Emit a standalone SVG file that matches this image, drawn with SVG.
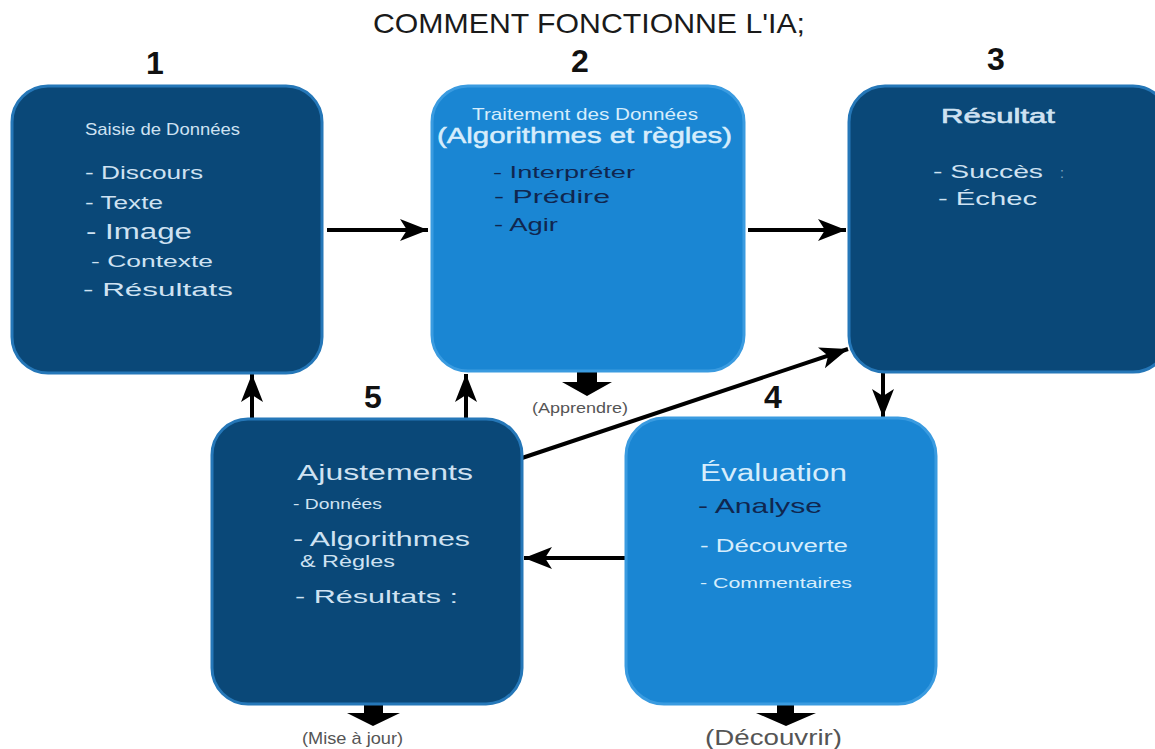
<svg xmlns="http://www.w3.org/2000/svg" width="1155" height="749" viewBox="0 0 1155 749">
<defs>
<style>
.dark{fill:#0a4878;stroke:#2577b8;stroke-width:3}
.light{fill:#1a86d3;stroke:#3a9be0;stroke-width:3}
text{font-family:"Liberation Sans",Arial,sans-serif}
.lt{fill:#cfe2f2}
.lb{fill:#d6edfc}
.dk{fill:#10264f}
.num{font-weight:bold;font-size:32px;fill:#111;text-anchor:middle}
.cap{fill:#555}
.ln{stroke:#000;stroke-width:4;fill:none}
</style>
<marker id="ah" markerUnits="userSpaceOnUse" markerWidth="30" markerHeight="24" refX="28" refY="12" orient="auto">
<path d="M0,1 L28,12 L0,23 L7,12 Z" fill="#000"/>
</marker>
</defs>
<text x="373" y="33" font-size="28" fill="#1a1a1a" textLength="432" lengthAdjust="spacingAndGlyphs">COMMENT FONCTIONNE L'IA;</text>
<text class="num" x="155" y="74">1</text>
<text class="num" x="580" y="72">2</text>
<text class="num" x="996" y="70">3</text>
<text class="num" x="373" y="408">5</text>
<text class="num" x="773" y="408">4</text>

<g id="connectors">
<line class="ln" x1="327" y1="230" x2="428" y2="230" marker-end="url(#ah)"/>
<line class="ln" x1="748" y1="230" x2="846" y2="230" marker-end="url(#ah)"/>
<line class="ln" x1="883" y1="373" x2="883" y2="417" marker-end="url(#ah)"/>
<line class="ln" x1="626" y1="558" x2="524" y2="558" marker-end="url(#ah)"/>
<line class="ln" x1="252" y1="419" x2="252" y2="374" marker-end="url(#ah)"/>
<line class="ln" x1="466" y1="419" x2="466" y2="374" marker-end="url(#ah)"/>
<line class="ln" x1="522" y1="458" x2="848" y2="349" marker-end="url(#ah)"/>
<path d="M577,371 H597 V382 H612 L587,396 L562,382 H577 Z" fill="#000"/>
<path d="M364,705 H383 V713 H400 L373,726 L347,713 H364 Z" fill="#000"/>
<path d="M777,705 H794 V713 H816 L786,726 L756,713 H777 Z" fill="#000"/>
<text class="cap" x="532" y="413" font-size="15" textLength="96" lengthAdjust="spacingAndGlyphs">(Apprendre)</text>
<text class="cap" x="302" y="744" font-size="17" textLength="101" lengthAdjust="spacingAndGlyphs">(Mise à jour)</text>
<text class="cap" x="705" y="745" font-size="22" textLength="137" lengthAdjust="spacingAndGlyphs">(Découvrir)</text>
</g>

<g id="node1">
<rect class="dark" x="12" y="86" width="310" height="287" rx="36"/>
<text class="lt" x="85" y="135" font-size="17" textLength="155" lengthAdjust="spacingAndGlyphs">Saisie de Données</text>
<text class="lt" x="85" y="179" font-size="19" textLength="118" lengthAdjust="spacingAndGlyphs">- Discours</text>
<text class="lt" x="85" y="209" font-size="18" textLength="78" lengthAdjust="spacingAndGlyphs">- Texte</text>
<text class="lt" x="86" y="239" font-size="22" textLength="106" lengthAdjust="spacingAndGlyphs">- Image</text>
<text class="lt" x="91" y="267" font-size="17" textLength="122" lengthAdjust="spacingAndGlyphs">- Contexte</text>
<text class="lt" x="83" y="296" font-size="19" textLength="150" lengthAdjust="spacingAndGlyphs">- Résultats</text>
</g>

<g id="node2">
<rect class="light" x="432" y="86" width="312" height="285" rx="36"/>
<text class="lb" x="472" y="120" font-size="17" textLength="226" lengthAdjust="spacingAndGlyphs">Traitement des Données</text>
<text class="lb" x="437" y="143" font-size="22" textLength="295" lengthAdjust="spacingAndGlyphs" stroke="#d6edfc" stroke-width="0.5">(Algorithmes et règles)</text>
<text class="dk" x="493" y="178" font-size="17" textLength="142" lengthAdjust="spacingAndGlyphs">- Interpréter</text>
<text class="dk" x="494" y="203" font-size="19" textLength="116" lengthAdjust="spacingAndGlyphs">- Prédire</text>
<text class="dk" x="494" y="231" font-size="19" textLength="64" lengthAdjust="spacingAndGlyphs">- Agir</text>
</g>

<g id="node3">
<rect class="dark" x="849" y="86" width="320" height="286" rx="36"/>
<text class="lt" x="941" y="123" font-size="20" textLength="114" lengthAdjust="spacingAndGlyphs" stroke="#cfe2f2" stroke-width="0.6">Résultat</text>
<text class="lt" x="933" y="178" font-size="19" textLength="110" lengthAdjust="spacingAndGlyphs">- Succès</text>
<text class="lt" x="1060" y="178" font-size="14" opacity="0.6">:</text>
<text class="lt" x="938" y="205" font-size="19" textLength="99" lengthAdjust="spacingAndGlyphs">- Échec</text>
</g>

<g id="node5">
<rect class="dark" x="212" y="419" width="310" height="285" rx="36"/>
<text class="lt" x="297" y="480" font-size="22" textLength="176" lengthAdjust="spacingAndGlyphs">Ajustements</text>
<text class="lt" x="293" y="509" font-size="15" textLength="89" lengthAdjust="spacingAndGlyphs">- Données</text>
<text class="lt" x="293" y="546" font-size="20" textLength="177" lengthAdjust="spacingAndGlyphs">- Algorithmes</text>
<text class="lt" x="300" y="567" font-size="16" textLength="95" lengthAdjust="spacingAndGlyphs">&amp; Règles</text>
<text class="lt" x="295" y="603" font-size="19" textLength="163" lengthAdjust="spacingAndGlyphs">- Résultats :</text>
</g>

<g id="node4">
<rect class="light" x="626" y="418" width="310" height="286" rx="38"/>
<text class="lb" x="700" y="481" font-size="23" textLength="147" lengthAdjust="spacingAndGlyphs">Évaluation</text>
<text class="dk" x="698" y="513" font-size="21" textLength="124" lengthAdjust="spacingAndGlyphs">- Analyse</text>
<text class="lb" x="700" y="552" font-size="18" textLength="148" lengthAdjust="spacingAndGlyphs">- Découverte</text>
<text class="lb" x="700" y="588" font-size="15" textLength="152" lengthAdjust="spacingAndGlyphs">- Commentaires</text>
</g>
</svg>
